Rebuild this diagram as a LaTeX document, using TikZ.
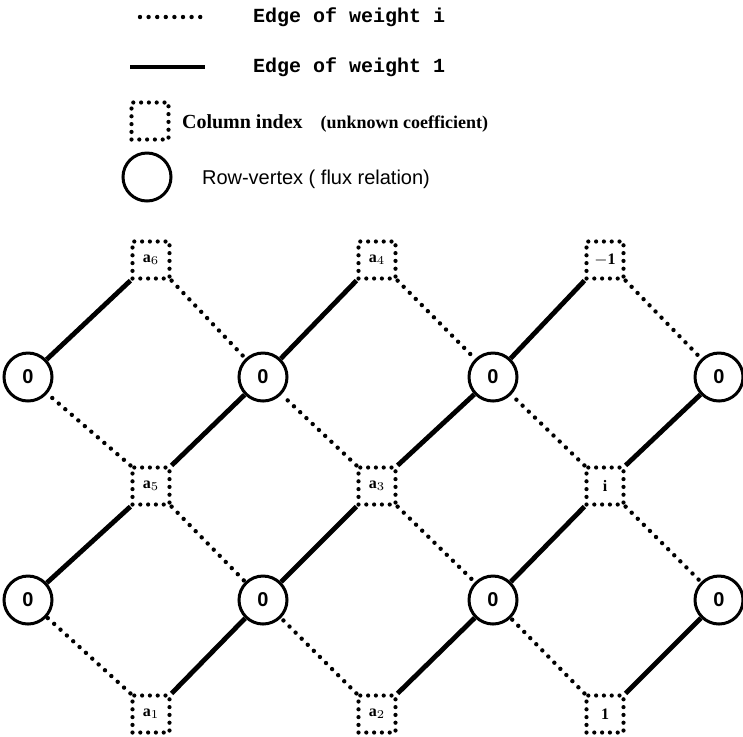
\documentclass[tikz,border=0pt]{standalone}
\usepackage{fontspec}
\setmainfont{Liberation Serif}
\setsansfont{Liberation Sans}
\setmonofont{Liberation Mono}
\usetikzlibrary{arrows, arrows.meta}
\usetikzlibrary{calc}

\begin{document}
\begin{tikzpicture}[x=0.5pt, y=-0.5pt,
    wone/.style={line width=2.4pt},
    wi/.style={line width=2.2pt, line cap=round, dash pattern=on 0pt off 4.3pt},
    rowv/.style={circle, draw, line width=1.5pt, minimum size=24pt, inner sep=0pt, font=\sffamily\bfseries},
    colx/.style={rectangle, draw, line width=2.1pt, line cap=round, dash pattern=on 0pt off 3.9pt, minimum width=18.5pt, minimum height=18.5pt, inner sep=0pt, font=\bfseries\footnotesize}]
        \useasboundingbox (0,0) rectangle (743,736);

        % legend
        \coordinate (li1) at (140,17);
        \coordinate (li2) at (205,17);
        \coordinate (lo1) at (130,67);
        \coordinate (lo2) at (205,67);
        \draw[wi] (li1) -- (li2);
        \draw[wone] (lo1) -- (lo2);
        \node[anchor=west, font=\ttfamily\bfseries] (ti) at (246,17) {Edge of weight i};
        \node[anchor=west, font=\ttfamily\bfseries] (to) at (246,67) {Edge of weight 1};
        \node[colx] (lsq) at (150,121) {};
        \node[anchor=west, font=\bfseries] (tsq) at (175,123) {Column index\hspace{0.9em}{\fontsize{9}{10}\selectfont(unknown coefficient)}};
        \node[rowv] (lci) at (147,177) {};
        \node[anchor=west, font=\sffamily] (tci) at (195,179) {Row-vertex ( flux relation)};

        % column indices
        \node[colx] (s1) at (151,260) {\raisebox{-3pt}{a$_6$}};
        \node[colx] (s2) at (377,260) {\raisebox{-3pt}{a$_4$}};
        \node[colx] (s3) at (605,260) {\raisebox{-3pt}{$-$1}};
        \node[colx] (m1) at (151,486) {\raisebox{-3pt}{a$_5$}};
        \node[colx] (m2) at (377,486) {\raisebox{-3pt}{a$_3$}};
        \node[colx] (m3) at (605,486) {\raisebox{-3pt}{i}};
        \node[colx] (b1) at (151,714) {\raisebox{-3pt}{a$_1$}};
        \node[colx] (b2) at (377,714) {\raisebox{-3pt}{a$_2$}};
        \node[colx] (b3) at (605,714) {\raisebox{-3pt}{1}};

        % row vertices
        \node[rowv] (u1) at (28,377) {0};
        \node[rowv] (u2) at (263,377) {0};
        \node[rowv] (u3) at (493,377) {0};
        \node[rowv] (u4) at (719,377) {0};
        \node[rowv] (v1) at (28,600) {0};
        \node[rowv] (v2) at (263,600) {0};
        \node[rowv] (v3) at (493,600) {0};
        \node[rowv] (v4) at (719,600) {0};

        % edges of weight 1
        \draw[wone] (s1.south west) -- (u1);
        \draw[wone] (s2.south west) -- (u2);
        \draw[wone] (s3.south west) -- (u3);
        \draw[wone] (m1.north east) -- (u2);
        \draw[wone] (m2.north east) -- (u3);
        \draw[wone] (m3.north east) -- (u4);
        \draw[wone] (m1.south west) -- (v1);
        \draw[wone] (m2.south west) -- (v2);
        \draw[wone] (m3.south west) -- (v3);
        \draw[wone] (b1.north east) -- (v2);
        \draw[wone] (b2.north east) -- (v3);
        \draw[wone] (b3.north east) -- (v4);

        % edges of weight i
        \draw[wi] (s1.south east) -- (u2);
        \draw[wi] (s2.south east) -- (u3);
        \draw[wi] (s3.south east) -- (u4);
        \draw[wi] (m1.north west) -- (u1);
        \draw[wi] (m2.north west) -- (u2);
        \draw[wi] (m3.north west) -- (u3);
        \draw[wi] (m1.south east) -- (v2);
        \draw[wi] (m2.south east) -- (v3);
        \draw[wi] (m3.south east) -- (v4);
        \draw[wi] (b1.north west) -- (v1);
        \draw[wi] (b2.north west) -- (v2);
        \draw[wi] (b3.north west) -- (v3);
\end{tikzpicture}
\end{document}
